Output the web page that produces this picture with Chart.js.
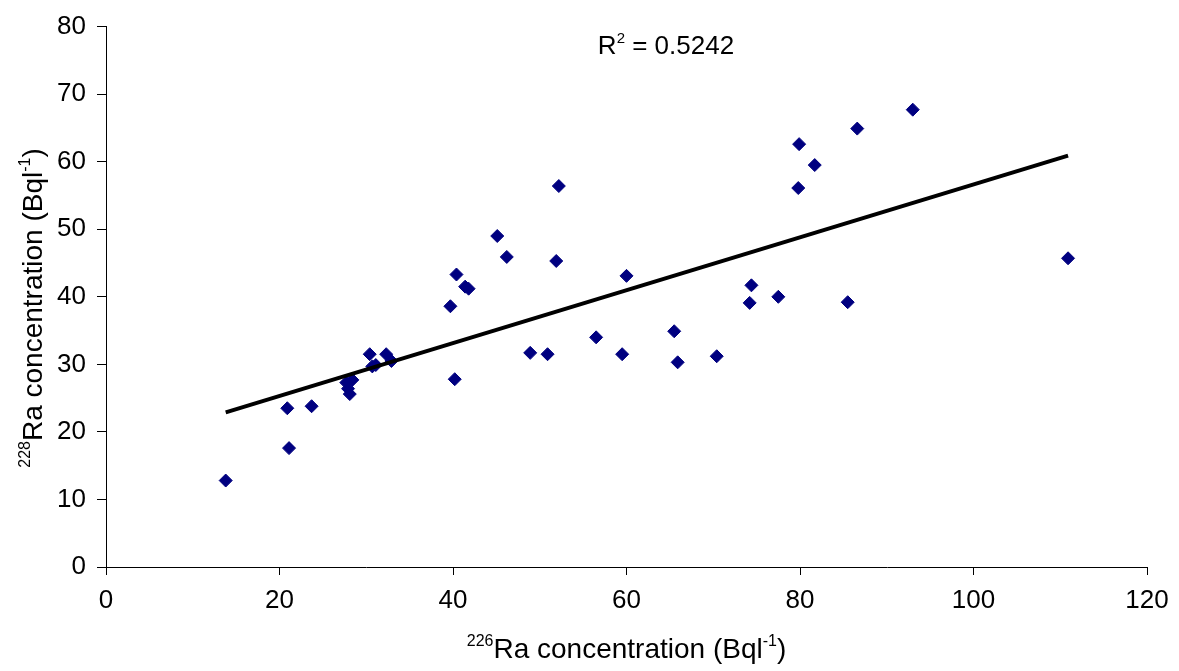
<!DOCTYPE html>
<html>
<head>
<meta charset="utf-8">
<script src="https://cdn.jsdelivr.net/npm/chart.js@4/dist/chart.umd.min.js"></script>
<style>
  body { margin: 0; background: #fff; }
  #wrap { width: 1179px; height: 671px; position: relative; }
</style>
</head>
<body>
<div id="wrap"><canvas id="raChart"></canvas></div>
<script>
// 226Ra (x) vs 228Ra (y), Bq/l
const ra226 = [13.8, 21.1, 20.9, 23.7, 27.7, 28.4, 27.9, 28.1, 30.4, 30.7, 31.1, 32.3, 32.9,
  39.7, 40.4, 41.4, 41.8, 40.2, 45.1, 46.2, 48.9, 50.9, 52.2, 51.9, 56.5, 59.5, 60.0,
  65.5, 65.9, 70.4, 74.2, 74.4, 77.5, 79.8, 79.9, 81.7, 85.5, 86.6, 93.0, 110.9];
const ra228 = [12.8, 17.6, 23.5, 23.8, 27.3, 27.7, 26.4, 25.6, 31.5, 29.7, 29.9, 31.5, 30.5,
  38.6, 43.3, 41.5, 41.2, 27.8, 49.0, 45.9, 31.7, 31.5, 56.4, 45.3, 34.0, 31.5, 43.1,
  34.9, 30.3, 31.2, 39.1, 41.7, 40.0, 56.1, 62.6, 59.5, 39.2, 64.9, 67.7, 45.7];

// linear trend line end points
const trendX = [13.8, 110.9];
const trendY = [22.9, 60.9];
const rSquared = "0.5242";

const FONT = "'Liberation Sans', Arial, sans-serif";

const points = ra226.map((x, i) => ({ x: x, y: ra228[i] }));
const trend = trendX.map((x, i) => ({ x: x, y: trendY[i] }));

// draw a text made of normal + superscript pieces, centred on cx, baseline cy
function drawRich(ctx, parts, cx, cy, size) {
  const supSize = Math.round(size * 0.58);
  let total = 0;
  parts.forEach(p => {
    ctx.font = (p.sup ? supSize : size) + "px " + FONT;
    p.w = ctx.measureText(p.t).width;
    total += p.w;
  });
  let x = cx - total / 2;
  ctx.textBaseline = "alphabetic";
  ctx.textAlign = "left";
  parts.forEach(p => {
    ctx.font = (p.sup ? supSize : size) + "px " + FONT;
    ctx.fillText(p.t, x, p.sup ? cy - size * 0.42 : cy);
    x += p.w;
  });
}

const labelsPlugin = {
  id: "labels",
  afterDraw(chart) {
    const ctx = chart.ctx;
    const area = chart.chartArea;
    ctx.save();
    ctx.fillStyle = "#000";
    // x axis title
    drawRich(ctx, [{ t: "226", sup: true }, { t: "Ra concentration (Bql" }, { t: "-1", sup: true }, { t: ")" }],
      (area.left + area.right) / 2, 658, 28);
    // y axis title
    ctx.save();
    ctx.translate(42, 308);
    ctx.rotate(-Math.PI / 2);
    drawRich(ctx, [{ t: "228", sup: true }, { t: "Ra concentration (Bql" }, { t: "-1", sup: true }, { t: ")" }],
      0, 0, 28);
    ctx.restore();
    // R squared
    drawRich(ctx, [{ t: "R" }, { t: "2", sup: true }, { t: " = " + rSquared }], 666, 54, 26);
    ctx.restore();
  }
};

new Chart(document.getElementById("raChart"), {
  type: "scatter",
  data: {
    datasets: [
      {
        type: "line",
        data: trend,
        borderColor: "#000",
        borderWidth: 4,
        pointRadius: 0,
        fill: false,
        order: 0
      },
      {
        data: points,
        pointStyle: "rectRot",
        pointRadius: 6.5,
        backgroundColor: "#000080",
        borderColor: "#000080",
        borderWidth: 1,
        order: 1
      }
    ]
  },
  options: {
    responsive: true,
    maintainAspectRatio: false,
    animation: false,
    layout: { padding: { top: 21, right: 32, left: 0, bottom: 0 } },
    plugins: { legend: { display: false }, tooltip: { enabled: false } },
    scales: {
      x: {
        type: "linear",
        min: 0,
        max: 120,
        ticks: { stepSize: 20, color: "#000", font: { family: FONT, size: 26 }, padding: 10 },
        grid: { drawOnChartArea: false, tickLength: 8, color: "#000" },
        border: { color: "#000", width: 1 },
        afterFit(scale) { scale.height = 104; }
      },
      y: {
        min: 0,
        max: 80,
        ticks: { stepSize: 10, color: "#000", font: { family: FONT, size: 26 }, padding: 11 },
        grid: { drawOnChartArea: false, tickLength: 9, color: "#000" },
        border: { color: "#000", width: 1 },
        afterFit(scale) { scale.width = 106; }
      }
    }
  },
  plugins: [labelsPlugin]
});
</script>
</body>
</html>
